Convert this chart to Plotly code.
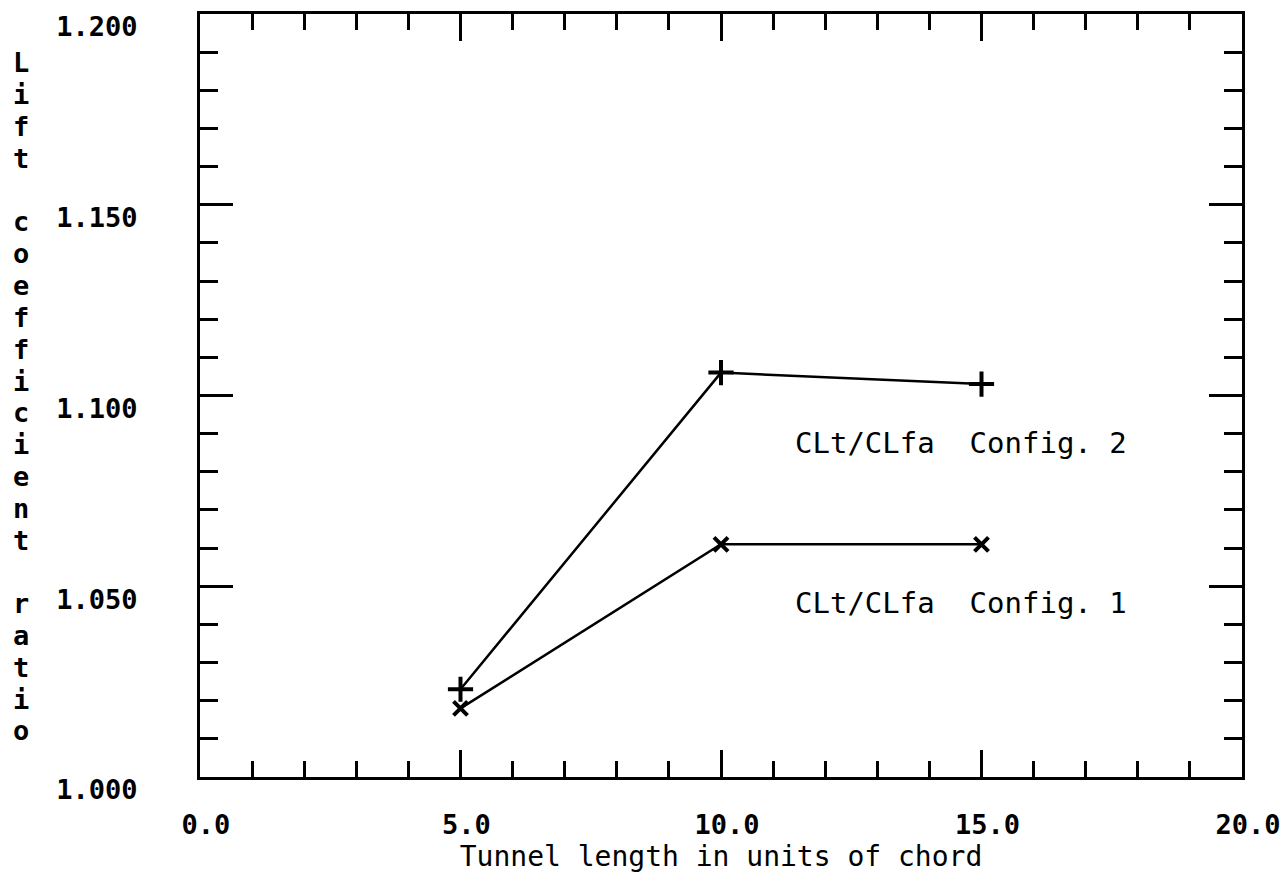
import plotly.graph_objects as go

# Data
tunnel_length = [5.0, 10.0, 15.0]
ratio_config2 = [1.023, 1.106, 1.103]
ratio_config1 = [1.018, 1.061, 1.061]
label_config2 = "CLt/CLfa  Config. 2"
label_config1 = "CLt/CLfa  Config. 1"
label_x = 11.38
label_y2 = 1.0875
label_y1 = 1.0455
x_ticks = [0.0, 5.0, 10.0, 15.0, 20.0]
y_ticks = [1.0, 1.05, 1.1, 1.15, 1.2]
x_title = "Tunnel length in units of chord"
y_title = "Lift coefficient ratio"

MONO = "DejaVu Sans Mono"

fig = go.Figure()
fig.add_trace(go.Scatter(
    x=tunnel_length, y=ratio_config2, mode="lines+markers",
    line=dict(color="black", width=2.5),
    marker=dict(symbol="cross-thin", size=18, line=dict(color="black", width=4)),
    showlegend=False,
))
fig.add_trace(go.Scatter(
    x=tunnel_length, y=ratio_config1, mode="lines+markers",
    line=dict(color="black", width=2.5),
    marker=dict(symbol="x-thin", size=14, line=dict(color="black", width=4)),
    showlegend=False,
))

annotations = [
    dict(x=label_x, y=label_y2, xref="x", yref="y", text=label_config2,
         showarrow=False, xanchor="left", yanchor="middle",
         font=dict(family=MONO, size=29, color="black")),
    dict(x=label_x, y=label_y1, xref="x", yref="y", text=label_config1,
         showarrow=False, xanchor="left", yanchor="middle",
         font=dict(family=MONO, size=29, color="black")),
]

# vertical stacked y-axis title, one character per line
plot_top, plot_bottom = 14, 777
first_px, step_px = 63, 31.8
for i, ch in enumerate(y_title):
    if ch == " ":
        continue
    ypx = first_px + i * step_px
    annotations.append(dict(
        x=-0.172, y=(plot_bottom - ypx) / (plot_bottom - plot_top),
        xref="paper", yref="paper", text=ch, showarrow=False,
        xanchor="center", yanchor="middle",
        font=dict(family=MONO, size=27, color="black", weight="bold")))

axis_common = dict(
    showgrid=False, zeroline=False, showline=True, linecolor="black",
    linewidth=3, mirror="ticks", ticks="inside", tickcolor="black",
    tickwidth=3, ticklabeloverflow="allow", automargin=False,
)

fig.update_layout(
    width=1287, height=873,
    margin=dict(l=200, r=45, t=14, b=96),
    plot_bgcolor="white", paper_bgcolor="white",
    xaxis=dict(
        range=[0, 20], tickmode="array", tickvals=x_ticks, tickformat=".1f", ticklen=27,
        minor=dict(dtick=1, tick0=0, ticks="inside", ticklen=16, tickcolor="black", tickwidth=3),
        tickfont=dict(family=MONO, size=27, color="black", weight="bold"),
        ticklabelstandoff=22, ticklabelshift=6,
        title=dict(text=x_title, standoff=2,
                   font=dict(family=MONO, size=28, color="black")),
        **axis_common,
    ),
    yaxis=dict(
        range=[1.0, 1.2], tickmode="array", tickvals=y_ticks, tickformat=".3f", ticklen=33,
        minor=dict(dtick=0.01, tick0=1.0, ticks="inside", ticklen=18, tickcolor="black", tickwidth=3),
        tickfont=dict(family=MONO, size=27, color="black", weight="bold"),
        ticklabelstandoff=54, ticklabelshift=13,
        **axis_common,
    ),
    annotations=annotations,
)

fig.write_html("out.html")
